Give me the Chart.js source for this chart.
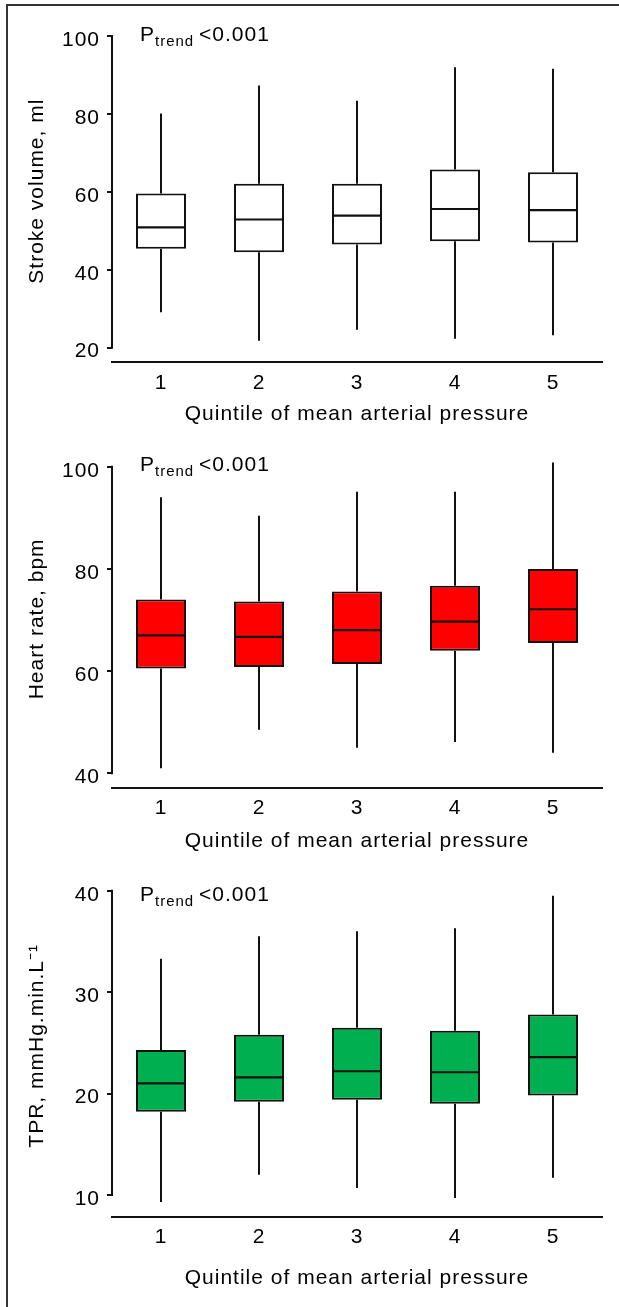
<!DOCTYPE html>
<html>
<head>
<meta charset="utf-8">
<script src="https://cdn.jsdelivr.net/npm/chart.js@4.4.1/dist/chart.umd.min.js"></script>
<style>
  html, body { margin: 0; padding: 0; background: #fff; }
  #fig { position: relative; width: 619px; height: 1307px; overflow: hidden; }
  #frame { position: absolute; left: 6px; top: 4px; right: 0; bottom: 0;
           border-top: 2px solid #333; border-left: 2px solid #333; }
  canvas { position: absolute; left: 0; }
</style>
</head>
<body>
<div id="fig">
  <div id="frame"></div>
  <canvas id="chart-sv" width="619" height="430" style="top:0"></canvas>
  <canvas id="chart-hr" width="619" height="430" style="top:430px"></canvas>
  <canvas id="chart-tpr" width="619" height="447" style="top:860px"></canvas>
</div>
<script>
const quintiles = ['1', '2', '3', '4', '5'];

// stroke volume, ml
const svMin = [29.1, 21.8, 24.6, 22.3, 23.2];
const svQ1  = [45.4, 44.5, 46.5, 47.3, 47.0];
const svMed = [50.9, 52.9, 53.9, 55.6, 55.3];
const svQ3  = [59.6, 62.1, 62.1, 65.7, 65.0];
const svMax = [80.1, 87.3, 83.4, 92.0, 91.6];

// heart rate, bpm
const hrMin = [41.0, 48.5, 45.0, 46.1, 44.0];
const hrQ1  = [60.5, 60.8, 61.4, 64.0, 65.5];
const hrMed = [67.0, 66.7, 68.0, 69.7, 72.1];
const hrQ3  = [74.0, 73.6, 75.6, 76.7, 80.0];
const hrMax = [94.0, 90.4, 95.1, 95.1, 100.8];

// total peripheral resistance
const tprMin = [9.3, 12.0, 10.7, 9.7, 11.7];
const tprQ1  = [18.2, 19.2, 19.4, 19.0, 19.8];
const tprMed = [21.0, 21.6, 22.2, 22.1, 23.6];
const tprQ3  = [24.3, 25.8, 26.5, 26.2, 27.8];
const tprMax = [33.3, 35.5, 36.0, 36.3, 39.5];

const pTrend = '<0.001';
const xTitle = 'Quintile of mean arterial pressure';

const family = '"Liberation Sans", Arial, Helvetica, sans-serif';
const FS = 21;
Chart.defaults.font.family = family;
Chart.defaults.font.size = FS;
Chart.defaults.color = '#000';

const SPACING = '1px';

// the reference text is set a little loose
const spacingPlugin = {
  id: 'spacing',
  beforeUpdate(chart) { chart.ctx.letterSpacing = SPACING; },
  beforeDraw(chart) { chart.ctx.letterSpacing = SPACING; }
};

// whiskers, medians, capped y axis line and the P-trend note
const boxPlugin = {
  id: 'boxparts',
  beforeDatasetsDraw(chart) {
    const {ctx, scales: {y}} = chart;
    const box = chart.options.plugins.boxparts;
    const meta = chart.getDatasetMeta(0);
    ctx.save();
    ctx.strokeStyle = '#111';
    ctx.lineWidth = 2;
    meta.data.forEach((bar, i) => {
      ctx.beginPath();
      ctx.moveTo(bar.x, y.getPixelForValue(box.q3[i]));
      ctx.lineTo(bar.x, y.getPixelForValue(box.hi[i]));
      ctx.moveTo(bar.x, y.getPixelForValue(box.q1[i]));
      ctx.lineTo(bar.x, y.getPixelForValue(box.lo[i]));
      ctx.stroke();
    });
    ctx.restore();
  },
  afterDatasetsDraw(chart) {
    const {ctx, scales: {y}} = chart;
    const box = chart.options.plugins.boxparts;
    const meta = chart.getDatasetMeta(0);
    ctx.save();
    ctx.strokeStyle = '#111';
    ctx.lineWidth = 2.2;
    meta.data.forEach((bar, i) => {
      const py = y.getPixelForValue(box.med[i]);
      ctx.beginPath();
      ctx.moveTo(bar.x - bar.width / 2, py);
      ctx.lineTo(bar.x + bar.width / 2, py);
      ctx.stroke();
    });
    ctx.restore();
  },
  afterDraw(chart) {
    const {ctx, chartArea, scales: {y}} = chart;
    const ticks = y.ticks;
    const top = y.getPixelForValue(ticks[ticks.length - 1].value);
    const bottom = y.getPixelForValue(ticks[0].value);
    ctx.save();
    ctx.strokeStyle = '#111';
    ctx.lineWidth = 2;
    ctx.beginPath();
    ctx.moveTo(chartArea.left, top - 1);
    ctx.lineTo(chartArea.left, bottom + 1);
    ctx.stroke();

    ctx.fillStyle = '#000';
    ctx.textBaseline = 'alphabetic';
    ctx.textAlign = 'left';
    ctx.font = FS + 'px ' + family;
    ctx.fillText('P', 140, 41);
    const px = 140 + ctx.measureText('P').width;
    ctx.font = '15px ' + family;
    ctx.fillText('trend', px, 46);
    ctx.font = FS + 'px ' + family;
    ctx.fillText(pTrend, 199, 41);
    ctx.restore();
  }
};

function makePanel(id, yTitle, fill, lo, q1, med, q3, hi, axis) {
  const data = {
    labels: quintiles,
    datasets: [{
      data: q1.map((v, i) => [v, q3[i]]),
      backgroundColor: fill,
      borderColor: '#111',
      borderWidth: 2,
      borderSkipped: false,
      barPercentage: 0.51,
      categoryPercentage: 1.0
    }]
  };

  const config = {
    type: 'bar',
    data: data,
    options: {
      responsive: false,
      animation: false,
      layout: {padding: {left: 0, right: 17, top: axis.top, bottom: 0}},
      plugins: {
        legend: {display: false},
        tooltip: {enabled: false},
        boxparts: {lo: lo, q1: q1, med: med, q3: q3, hi: hi}
      },
      scales: {
        x: {
          type: 'category',
          offset: true,
          grid: {display: false, drawTicks: false},
          border: {display: true, color: '#111', width: 2},
          ticks: {padding: 8, font: {size: FS}, color: '#000'},
          title: {
            display: true,
            text: xTitle,
            font: {size: FS},
            color: '#000',
            padding: {top: 0, bottom: axis.titlePad}
          },
          afterFit(scale) {
            scale.height = axis.xHeight;
            scale.paddingLeft = 0;
            scale.paddingRight = 0;
          }
        },
        y: {
          min: axis.min,
          max: axis.max,
          grid: {
            display: true,
            drawOnChartArea: false,
            drawTicks: true,
            tickLength: 5,
            color: '#111',
            lineWidth: 2
          },
          border: {display: false},
          ticks: {
            stepSize: axis.step,
            includeBounds: false,
            padding: 7,
            labelOffset: 4,
            font: {size: FS},
            color: '#000'
          },
          title: {
            display: true,
            text: yTitle,
            font: {size: FS},
            color: '#000',
            padding: {top: 25, bottom: 0}
          },
          afterFit(scale) {
            scale.width = 112;
            scale.paddingTop = 0;
            scale.paddingBottom = 0;
          }
        }
      }
    },
    plugins: [spacingPlugin, boxPlugin]
  };

  return new Chart(document.getElementById(id), config);
}

makePanel('chart-sv', 'Stroke volume, ml', '#ffffff',
  svMin, svQ1, svMed, svQ3, svMax,
  {min: 16.25, max: 104.1, step: 20, top: 20, xHeight: 67.7, titlePad: 3});

makePanel('chart-hr', 'Heart rate, bpm', '#ff0000',
  hrMin, hrQ1, hrMed, hrQ3, hrMax,
  {min: 37.18, max: 103.27, step: 20, top: 20, xHeight: 72.3, titlePad: 6});

makePanel('chart-tpr', 'TPR, mmHg.min.L\u207B\u00B9', '#00b050',
  tprMin, tprQ1, tprMed, tprQ3, tprMax,
  {min: 7.86, max: 41.55, step: 10, top: 15, xHeight: 90.3, titlePad: 16});
</script>
</body>
</html>
